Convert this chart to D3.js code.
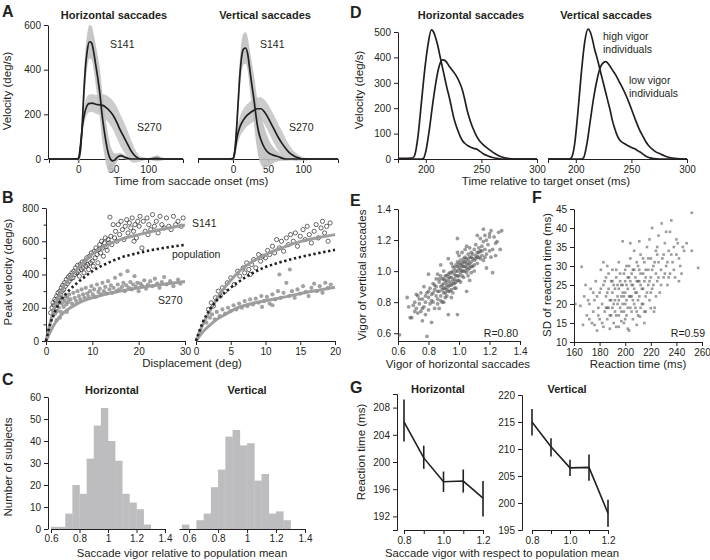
<!DOCTYPE html>
<html><head><meta charset="utf-8">
<script src="https://cdn.jsdelivr.net/npm/d3@7"></script>
<style>body{margin:0;background:#fff}svg{display:block;font-family:"Liberation Sans",Arial,Helvetica,sans-serif}</style>
</head><body><script>
// ---------------- DATA ----------------
// Panel A: velocity profiles [time ms, mean deg/s, sd]
const aHorizS141 = [[-42,0,2],[-5,0,3],[0,2,10],[3,40,40],[5,120,60],[8,300,80],[10,400,80],[13,490,75],[16,525,75],[19,520,75],[22,480,80],[25,420,90],[28,360,100],[31,290,110],[34,200,110],[37,130,105],[40,70,95],[43,25,80],[46,0,60],[49,-8,45],[52,-5,30],[55,5,20],[58,12,15],[61,15,12],[64,12,10],[68,6,8],[72,2,6],[76,0,5],[100,0,4],[108,2,10],[113,3,14],[118,1,9],[126,0,3],[150,0,2]];
const aHorizS270 = [[-42,0,2],[0,0,5],[3,60,30],[6,150,40],[9,205,40],[12,235,40],[15,248,40],[20,250,40],[25,245,42],[30,243,45],[35,240,50],[40,230,55],[45,215,60],[50,195,65],[55,165,70],[60,130,70],[65,100,68],[70,70,62],[75,40,50],[80,18,35],[85,5,20],[90,0,10],[100,0,5],[150,0,2]];
const aVertS141 = [[-50,0,2],[-5,0,3],[0,2,10],[3,50,40],[6,180,60],[9,340,70],[12,450,70],[15,492,70],[18,497,70],[21,470,75],[24,400,85],[27,330,100],[30,265,110],[33,190,115],[36,130,115],[40,85,110],[45,50,90],[50,30,65],[55,20,45],[60,15,30],[65,10,20],[70,4,12],[75,0,8],[85,0,4],[150,0,2]];
const aVertS270 = [[-50,0,2],[0,0,5],[3,40,25],[6,100,40],[10,145,45],[15,175,50],[20,195,50],[25,208,50],[30,218,50],[35,225,50],[40,225,52],[45,210,55],[50,185,60],[55,155,62],[60,125,62],[65,95,60],[70,70,55],[75,48,45],[80,30,35],[85,18,25],[90,9,18],[95,4,12],[100,0,8],[110,0,4],[150,0,2]];

// Panel B: peak velocity vs displacement [deg, deg/s]
const bHorizS141 = [[1.0,170],[1.3,200],[1.5,230],[1.7,215],[1.9,250],[2.1,240],[2.3,270],[2.4,225],[2.6,290],[2.8,265],[3.0,300],[3.1,280],[3.3,320],[3.5,300],[3.6,335],[3.8,310],[4.0,350],[4.2,330],[4.4,370],[4.6,345],[4.8,385],[5.0,360],[5.2,395],[5.4,375],[5.6,410],[5.8,380],[6.0,420],[6.2,400],[6.4,440],[6.6,410],[6.8,455],[7.0,420],[7.2,390],[7.4,460],[7.6,430],[7.8,475],[8.0,440],[8.2,410],[8.4,480],[8.6,450],[8.8,500],[9.0,460],[9.2,430],[9.4,510],[9.6,470],[9.8,530],[10.0,480],[10.2,450],[10.4,540],[10.6,500],[10.8,560],[11.0,520],[11.2,470],[11.4,550],[11.6,580],[11.8,530],[12.0,600],[12.2,560],[12.4,510],[12.6,590],[12.8,620],[13.0,570],[13.2,545],[13.4,610],[13.6,590],[13.8,745],[14.0,630],[14.2,580],[14.5,700],[14.8,620],[15.0,660],[15.3,600],[15.6,700],[15.9,640],[16.2,720],[16.5,670],[16.8,610],[17.1,690],[17.4,730],[17.7,650],[18.0,710],[18.3,680],[18.6,740],[18.9,660],[19.0,600],[19.2,700],[19.5,620],[19.8,720],[20.1,690],[20.3,750],[20.7,560],[21.0,720],[21.4,660],[21.8,740],[22.0,640],[22.2,700],[22.6,670],[23.0,760],[23.4,690],[23.8,720],[24.2,650],[24.6,750],[25.0,700],[25.5,680],[26.0,740],[26.5,690],[27.0,670],[27.5,750],[28.0,700],[28.5,720],[29.2,690],[29.6,740]];
const bHorizS270 = [[1.5,150],[1.8,190],[2.0,165],[2.2,210],[2.3,125],[2.4,180],[2.6,230],[2.8,200],[3.0,245],[3.0,140],[3.2,175],[3.4,225],[3.6,255],[3.8,205],[4.0,240],[4.2,270],[4.4,220],[4.5,175],[4.6,260],[4.8,235],[5.0,280],[5.3,250],[5.6,225],[5.9,290],[6.2,260],[6.5,240],[6.8,300],[7.1,270],[7.4,250],[7.7,310],[8.0,280],[8.3,260],[8.6,320],[8.9,285],[9.2,265],[9.5,300],[9.8,330],[10.1,280],[10.4,310],[10.7,265],[11.0,340],[11.3,295],[11.6,315],[11.9,280],[12.2,350],[12.5,300],[12.8,325],[13.1,285],[13.4,360],[13.7,310],[14.0,335],[14.3,290],[14.6,320],[14.9,380],[15.2,300],[15.5,340],[15.8,310],[16.1,400],[16.4,325],[16.7,350],[17.0,300],[17.3,335],[17.6,420],[17.9,320],[18.2,355],[18.5,310],[18.8,340],[19.1,390],[19.4,325],[19.7,350],[20.0,300],[20.4,345],[20.8,330],[21.2,365],[21.6,315],[22.0,340],[22.5,360],[23.0,330],[23.5,375],[24.0,345],[24.5,320],[25.0,355],[25.5,385],[26.0,340],[26.8,360],[27.5,330],[28.5,370],[29.0,345]];
const bVertS141 = [[1.8,190],[2.2,230],[2.5,210],[2.8,260],[3.2,300],[3.5,270],[3.8,320],[4.2,300],[4.5,350],[5.0,380],[5.5,340],[6.0,420],[6.3,390],[6.8,440],[7.0,410],[7.3,470],[7.6,430],[7.8,400],[8.0,460],[8.3,490],[8.6,440],[9.0,520],[9.3,480],[9.6,510],[10.0,500],[10.3,545],[10.6,520],[11.0,570],[11.3,530],[11.6,610],[12.0,560],[12.3,600],[12.6,540],[13.0,620],[13.3,580],[13.6,640],[14.0,600],[14.3,650],[14.6,570],[15.0,630],[15.4,670],[15.7,610],[16.0,690],[16.3,640],[16.6,590],[17.0,660],[17.3,700],[17.6,620],[18.0,680],[18.2,720],[18.5,650],[18.8,690],[19.0,600],[19.3,710]];
const bVertS270 = [[1.5,110],[2.0,140],[2.3,160],[2.7,130],[3.0,175],[3.4,150],[3.8,190],[4.2,165],[4.6,200],[5.0,180],[5.4,215],[5.8,190],[6.2,225],[6.6,200],[7.0,240],[7.4,210],[7.8,250],[8.2,220],[8.6,255],[9.0,230],[9.4,270],[9.5,205],[9.8,240],[10.2,265],[10.6,225],[11.0,280],[11.0,215],[11.4,250],[11.8,300],[12.0,400],[12.2,260],[12.6,290],[13.0,350],[13.4,270],[13.5,430],[13.8,300],[14.2,260],[14.6,310],[15.0,285],[15.4,330],[15.8,295],[16.2,270],[16.6,320],[17.0,345],[17.4,300],[17.8,330],[18.2,290],[18.6,350],[19.0,320],[19.4,340]];
// fitted main-sequence curves [deg, deg/s]
const bHorizFitS141 = [[0,0],[1,120],[2,215],[3,285],[4,335],[5,375],[7,440],[10,525],[13,575],[16,610],[20,640],[25,672],[30,698]];
const bHorizFitPop  = [[0,0],[1,110],[2,180],[3,235],[5,305],[7,355],[10,420],[13,465],[16,500],[20,530],[25,558],[30,578]];
const bHorizFitS270 = [[0,0],[1,60],[2,110],[3,148],[5,195],[7,228],[10,260],[13,283],[16,300],[20,320],[25,340],[30,358]];
const bVertFitS141 = [[0,0],[1,100],[2,180],[3,255],[4,315],[5,365],[6,410],[8,475],[10,520],[12,555],[15,598],[18,625],[20,640]];
const bVertFitPop  = [[0,0],[1,115],[2,190],[3,245],[4,285],[6,352],[8,405],[10,445],[12,472],[15,505],[18,532],[20,548]];
const bVertFitS270 = [[0,0],[1,55],[2,95],[3,130],[4,155],[6,200],[8,225],[10,242],[12,258],[15,285],[18,308],[20,323]];

// Panel C: histograms (bin start, width 0.05)
const cHorizBins   = [0.60,0.65,0.70,0.75,0.80,0.85,0.90,0.95,1.00,1.05,1.10,1.15,1.20,1.25];
const cHorizCounts = [1,1,7,20,16,32,47,55,40,31,16,12,9,2];
const cVertBins    = [0.55,0.60,0.65,0.70,0.75,0.80,0.85,0.90,0.95,1.00,1.05,1.10,1.15,1.20,1.25];
const cVertCounts  = [2,0,4,7,19,27,42,45,38,39,22,25,7,8,4];

// Panel D: mean velocity of high / low vigor groups [time ms, deg/s]
const dHorizHigh = [[175,3],[188,4],[190,15],[193,90],[196,220],[199,350],[202,450],[205,508],[207,500],[209,475],[211,442],[213,400],[215,360],[217,320],[219,280],[221,245],[223,205],[225,165],[227,135],[229,110],[231,88],[233,72],[235,62],[238,52],[241,45],[243,42],[246,38],[249,29],[252,20],[256,12],[260,6],[265,2],[270,0],[300,0]];
const dHorizLow  = [[175,0],[196,0],[198,3],[200,30],[203,110],[206,210],[209,300],[212,365],[215,390],[218,385],[221,365],[224,348],[227,330],[230,305],[233,270],[235,235],[237,195],[240,150],[243,115],[246,87],[249,68],[252,55],[255,44],[258,34],[262,22],[266,12],[270,6],[275,2],[280,0],[300,0]];
const dVertHigh  = [[175,0],[194,0],[196,5],[199,60],[202,190],[205,340],[208,460],[211,511],[213,500],[215,470],[217,430],[219,400],[221,365],[223,330],[225,295],[227,260],[229,225],[231,190],[233,150],[235,120],[237,95],[239,78],[241,68],[244,60],[247,52],[250,45],[253,40],[256,32],[259,24],[262,14],[265,7],[270,2],[275,0],[300,0]];
const dVertLow   = [[175,0],[205,0],[207,5],[210,60],[213,150],[216,240],[219,310],[222,360],[225,380],[227,383],[230,370],[233,350],[236,330],[239,305],[242,280],[245,252],[248,220],[251,185],[254,150],[257,118],[260,92],[263,68],[266,50],[269,38],[272,28],[276,20],[280,12],[285,5],[290,2],[295,0],[300,0]];

// Panel E: vigor horizontal vs vertical
const eVigor = [[0.61,0.59],[0.66,0.83],[0.67,0.77],[0.68,0.70],[0.69,0.70],[0.70,0.78],[0.71,0.80],[0.71,0.74],[0.72,0.76],[0.72,0.85],[0.73,0.84],[0.73,0.73],[0.74,0.79],[0.74,0.82],[0.75,0.86],[0.75,0.74],[0.76,0.68],[0.76,0.82],[0.76,0.76],[0.77,0.77],[0.77,0.90],[0.78,0.80],[0.78,0.72],[0.78,0.84],[0.79,0.58],[0.79,0.86],[0.80,0.83],[0.80,0.75],[0.80,0.98],[0.80,0.87],[0.81,0.89],[0.81,0.79],[0.82,0.67],[0.82,0.85],[0.82,0.81],[0.83,0.92],[0.83,0.80],[0.83,0.86],[0.84,0.88],[0.84,0.76],[0.84,0.91],[0.85,0.95],[0.85,0.84],[0.85,0.90],[0.86,0.82],[0.86,0.98],[0.86,0.87],[0.86,0.79],[0.87,0.87],[0.87,0.93],[0.87,0.76],[0.87,0.95],[0.88,0.90],[0.88,0.84],[0.88,1.04],[0.88,0.97],[0.88,0.81],[0.89,0.95],[0.89,0.88],[0.89,0.80],[0.89,0.91],[0.90,0.92],[0.90,0.86],[0.90,1.00],[0.90,0.95],[0.90,0.89],[0.90,0.80],[0.91,0.94],[0.91,0.89],[0.91,0.83],[0.91,0.97],[0.91,0.86],[0.92,0.97],[0.92,0.91],[0.92,0.88],[0.92,0.93],[0.92,0.84],[0.93,0.95],[0.93,0.90],[0.93,1.08],[0.93,0.72],[0.93,0.98],[0.93,0.87],[0.94,0.93],[0.94,0.87],[0.94,0.99],[0.94,0.91],[0.94,0.96],[0.95,0.96],[0.95,0.91],[0.95,1.05],[0.95,0.88],[0.95,0.99],[0.95,0.83],[0.96,0.94],[0.96,1.00],[0.96,0.86],[0.96,0.92],[0.96,1.03],[0.97,0.98],[0.97,1.02],[0.97,0.92],[0.97,0.95],[0.97,0.89],[0.98,1.04],[0.98,0.97],[0.98,0.89],[0.98,1.00],[0.98,0.93],[0.99,1.00],[0.99,1.06],[0.99,0.94],[0.99,1.21],[0.99,1.12],[0.99,0.72],[0.99,0.97],[0.99,1.03],[1.00,1.02],[1.00,0.97],[1.00,1.10],[1.00,0.94],[1.00,1.05],[1.01,1.04],[1.01,0.99],[1.01,0.93],[1.01,1.01],[1.01,1.07],[1.02,1.05],[1.02,1.00],[1.02,1.12],[1.02,0.97],[1.02,1.03],[1.03,1.03],[1.03,1.08],[1.03,0.96],[1.03,1.00],[1.03,1.06],[1.04,1.06],[1.04,1.00],[1.04,1.14],[1.04,1.03],[1.04,1.09],[1.05,1.02],[1.05,1.08],[1.05,0.87],[1.05,1.16],[1.05,1.05],[1.05,0.99],[1.06,1.04],[1.06,1.11],[1.06,0.97],[1.06,1.07],[1.06,1.01],[1.07,1.09],[1.07,1.02],[1.07,1.15],[1.07,0.94],[1.07,1.05],[1.08,1.06],[1.08,1.12],[1.08,0.99],[1.08,1.09],[1.08,1.03],[1.09,1.08],[1.09,1.03],[1.09,1.11],[1.10,1.14],[1.10,1.07],[1.10,1.00],[1.10,1.04],[1.11,1.10],[1.11,1.17],[1.11,1.08],[1.12,1.12],[1.12,1.05],[1.12,1.23],[1.12,1.09],[1.13,1.15],[1.13,1.09],[1.13,1.12],[1.14,1.21],[1.14,1.13],[1.14,1.08],[1.15,1.10],[1.15,1.16],[1.15,1.13],[1.16,1.07],[1.16,1.19],[1.16,1.27],[1.17,1.14],[1.17,1.23],[1.17,1.09],[1.18,1.20],[1.18,1.11],[1.18,1.02],[1.19,1.17],[1.20,1.24],[1.20,1.13],[1.20,1.22],[1.21,1.26],[1.21,1.09],[1.22,0.99],[1.22,1.14],[1.23,1.22],[1.24,1.18],[1.24,1.10],[1.25,1.19],[1.26,1.25],[1.27,1.14],[1.28,1.26]];

// Panel F: reaction time vs SD of reaction time [ms, ms]
const fRT = [[161,20],[165,19.5],[166,29.8],[167,14.5],[168,22],[169,25],[170,17],[171,21],[172,20],[172,16],[173,24],[174,15],[175,18],[175,23],[176,21],[176,14.5],[177,26],[178,13],[178,22],[179,19],[179,17],[180,23],[180,16],[181,29],[181,24],[182,20],[182,15],[183,25],[183,14],[183,31],[184,18],[184,26],[185,22],[185,27],[185,19],[186,16],[186,30],[186,23],[186,19],[187,19],[187,24],[187,28],[188,21],[188,13.5],[188,17],[189,26],[189,17],[189,21],[190,23],[190,19],[190,29],[190,26],[191,15],[191,25],[191,20],[192,21],[192,18],[192,24],[193,27],[193,14],[193,17],[193,29],[194,22],[194,20],[194,25],[195,24],[195,17],[195,31],[195,21],[195,14],[196,26],[196,19],[196,28],[197,22],[197,15.5],[197,18],[197,25],[198,36.5],[198,25],[198,20],[198,23],[199,28],[199,18],[199,15],[199,22],[200,23],[200,26],[200,16],[200,29],[200,20],[201,21],[201,30],[201,25],[201,17],[202,24],[202,19],[202,27],[202,13.5],[203,27],[203,13],[203,22],[203,30],[204,22],[204,32],[204,19],[204,26],[204,36],[205,25],[205,18],[205,22],[205,28],[206,29],[206,21],[206,16],[206,25],[207,24],[207,34],[207,20],[207,29],[208,19],[208,27],[208,23],[209,23],[209,31],[209,26],[209,18],[209,14.5],[210,26],[210,17],[210,21],[210,30],[211,29],[211,22],[211,26],[211,36.5],[211.5,16.7],[212,25],[212,33],[212,19],[212,28],[213,20],[213,24],[214,28],[214,24],[214,32],[214,20],[215,31],[215,18],[215,26],[215,15],[216,27],[216,22],[216,29],[216,18],[217,35],[217,23],[218,25],[218,29],[218,32],[219,21],[219,26],[219,37],[220,32],[220,27],[220,18.9],[220,23],[221,24],[221,29],[221,40],[222,30],[222,25],[222.5,18],[223,19],[223,31],[224,34],[224,28],[224,22],[225,26],[225,33],[225,35],[226,31],[226,38],[226,27],[227,23],[228,29],[228,25],[228.5,41.2],[229,32],[230,33],[230,27],[231,36],[231,28],[232,30],[232,39],[233,25],[233,31],[234,34],[234,27],[235,39],[235,28],[236,42],[236,33],[237,31],[238,35],[238,29],[239,27],[240,33],[240,37],[241,36],[242,26],[242,32],[243,30],[244,28],[245,35],[246,34],[248,36],[252,44],[252,34],[257,29.5]];

// Panel G: reaction time vs vigor group
const gVigor     = [0.8,0.9,1.0,1.1,1.2];
const gHorizMean = [205.9,200.6,197.1,197.2,194.7];
const gHorizLo   = [203.0,199.0,195.6,195.5,192.0];
const gHorizHi   = [209.2,202.4,198.6,198.9,197.2];
const gVertMean  = [215.0,210.4,206.5,206.6,198.1];
const gVertLo    = [212.5,208.6,205.0,204.1,195.6];
const gVertHi    = [217.4,212.0,208.0,209.0,200.6];

// ---------------- DRAWING ----------------
const ink = "#231f20";
const FF = '"Liberation Sans", Arial, Helvetica, sans-serif';
const FT = 10, FL = 11.5;
const svg = d3.select("body").append("svg").attr("width",710).attr("height",560);

function txt(x,y,s,o={}){
  const t = svg.append("text").attr("x",x).attr("y",y).text(s)
    .attr("font-size",o.size||FL).attr("fill",ink).attr("font-family",FF);
  if(o.anchor) t.attr("text-anchor",o.anchor);
  if(o.bold) t.attr("font-weight","bold");
  if(o.rot) t.attr("transform",`rotate(-90,${x},${y})`).attr("text-anchor","middle");
  return t;
}
function style(g){
  g.attr("font-family",FF).attr("font-size",FT);
  g.selectAll("path,line").attr("stroke",ink).attr("stroke-width",1);
  g.selectAll("text").attr("fill",ink);
  return g;
}
function xAxis(sc,y,vals,fmt,outer=0,size=4,pad=3){
  return style(svg.append("g").attr("transform",`translate(0,${y})`)
    .call(d3.axisBottom(sc).tickValues(vals).tickFormat(fmt||(d=>d)).tickSize(size).tickSizeOuter(outer).tickPadding(pad)));
}
function yAxis(sc,x,vals,fmt,outer=0,size=4){
  return style(svg.append("g").attr("transform",`translate(${x},0)`)
    .call(d3.axisLeft(sc).tickValues(vals).tickFormat(fmt||(d=>d)).tickSize(size).tickSizeOuter(outer).tickPadding(3)));
}
function minorY(sc,x,vals){
  const g = style(svg.append("g").attr("transform",`translate(${x},0)`)
    .call(d3.axisLeft(sc).tickValues(vals).tickFormat("").tickSize(2.5)));
  g.select(".domain").remove();
}
const f1 = d=>d.toFixed(1);

// ===== Panel A =====
const xA1 = d3.scaleLinear([-42,150],[49,183]);
const xA2 = d3.scaleLinear([-50,150],[198,338]);
const yA  = d3.scaleLinear([0,600],[159,25]);
yAxis(yA,48,[0,200,400,600]);
xAxis(xA1,159,[0,50,100],null,4);
xAxis(xA2,159,[0,50,100],null,4);
function bandA(data,x,fill){
  svg.append("path").datum(data).attr("fill",fill).attr("opacity",0.9)
    .attr("d",d3.area().x(d=>x(d[0])).y0(d=>yA(d[1]-d[2])).y1(d=>yA(d[1]+d[2])).curve(d3.curveMonotoneX));
}
function lineA(data,x){
  svg.append("path").datum(data).attr("fill","none").attr("stroke",ink).attr("stroke-width",1.7)
    .attr("d",d3.line().x(d=>x(d[0])).y(d=>yA(d[1])).curve(d3.curveMonotoneX));
}
bandA(aHorizS270,xA1,"#c6c6c6"); bandA(aHorizS141,xA1,"#c0c0c0");
bandA(aVertS270,xA2,"#c6c6c6");  bandA(aVertS141,xA2,"#c0c0c0");
lineA(aHorizS270,xA1); lineA(aHorizS141,xA1);
lineA(aVertS270,xA2);  lineA(aVertS141,xA2);
txt(2,17,"A",{size:16,bold:true});
txt(114,19,"Horizontal saccades",{size:11,bold:true,anchor:"middle"});
txt(265,19,"Vertical saccades",{size:11,bold:true,anchor:"middle"});
txt(110,48,"S141",{size:10.5}); txt(137,131,"S270",{size:10.5});
txt(260,48,"S141",{size:10.5}); txt(289,131,"S270",{size:10.5});
txt(10.5,91,"Velocity (deg/s)",{rot:true});
txt(191,185,"Time from saccade onset (ms)",{anchor:"middle"});

// ===== Panel B =====
const xB1 = d3.scaleLinear([0,30],[46,185]);
const xB2 = d3.scaleLinear([0,20],[196,335]);
const yB  = d3.scaleLinear([0,800],[341,208]);
yAxis(yB,46,[0,200,400,600,800]);
minorY(yB,46,[100,300,500,700]);
xAxis(xB1,341,[0,10,20,30]);
xAxis(xB2,341,[0,5,10,15,20]);
function ptsB(data,x,open){
  const s = svg.append("g").selectAll("circle").data(data).join("circle")
    .attr("cx",d=>x(d[0])).attr("cy",d=>yB(d[1])).attr("r",2.1);
  if(open) s.attr("fill","none").attr("stroke",ink).attr("stroke-width",0.8).attr("stroke-opacity",0.85);
  else s.attr("fill","#7a7a7a").attr("fill-opacity",0.7);
}
function fitB(data,x,dotted){
  const p = svg.append("path").datum(data).attr("fill","none")
    .attr("d",d3.line().x(d=>x(d[0])).y(d=>yB(d[1])).curve(d3.curveMonotoneX));
  if(dotted) p.attr("stroke",ink).attr("stroke-width",2.6).attr("stroke-dasharray","2.4,2.6");
  else p.attr("stroke","#9a9a9a").attr("stroke-width",3).attr("stroke-opacity",0.95);
}
ptsB(bHorizS270,xB1,false); ptsB(bHorizS141,xB1,true);
ptsB(bVertS270,xB2,false);  ptsB(bVertS141,xB2,true);
fitB(bHorizFitS141,xB1); fitB(bHorizFitS270,xB1); fitB(bHorizFitPop,xB1,true);
fitB(bVertFitS141,xB2);  fitB(bVertFitS270,xB2);  fitB(bVertFitPop,xB2,true);
txt(2,203,"B",{size:16,bold:true});
txt(192,227,"S141",{size:10.5});
txt(172,258,"population",{size:10.5});
txt(158,304,"S270",{size:10.5});
txt(11.5,272,"Peak velocity (deg/s)",{rot:true});
txt(192,367,"Displacement (deg)",{anchor:"middle"});

// ===== Panel C =====
const xC1 = d3.scaleLinear([0.6,1.4],[51,165]);
const xC2 = d3.scaleLinear([0.53,1.4],[179,305]);
const yC  = d3.scaleLinear([0,60],[529,397]);
function histC(bins,counts,x){
  svg.append("g").selectAll("rect").data(bins).join("rect")
    .attr("x",d=>x(d)).attr("width",d=>x(d+0.05)-x(d)+0.3)
    .attr("y",(d,i)=>yC(counts[i])).attr("height",(d,i)=>yC(0)-yC(counts[i]))
    .attr("fill","#bdbdbf");
}
histC(cHorizBins,cHorizCounts,xC1);
histC(cVertBins,cVertCounts,xC2);
yAxis(yC,48,[0,10,20,30,40,50,60]);
const fC = d=> d===1 ? "1" : d.toFixed(1);
xAxis(xC1,529,[0.6,0.8,1.0,1.2,1.4],fC,0,4,2);
xAxis(xC2,529,[0.6,0.8,1.0,1.2,1.4],fC,0,4,2);
txt(2,385,"C",{size:16,bold:true});
txt(112,394,"Horizontal",{size:11,bold:true,anchor:"middle"});
txt(247,394,"Vertical",{size:11,bold:true,anchor:"middle"});
txt(11.5,467,"Number of subjects",{rot:true});
txt(182,556.5,"Saccade vigor relative to population mean",{anchor:"middle",size:11.3});

// ===== Panel D =====
const xD1 = d3.scaleLinear([175,300],[398,537]);
const xD2 = d3.scaleLinear([175,300],[548,687]);
const yD  = d3.scaleLinear([0,500],[159,32]);
yAxis(yD,398,[0,100,200,300,400,500]);
xAxis(xD1,159,[200,250,300],null,4);
xAxis(xD2,159,[200,250,300],null,4);
function lineD(data,x){
  svg.append("path").datum(data).attr("fill","none").attr("stroke",ink).attr("stroke-width",1.7)
    .attr("d",d3.line().x(d=>x(d[0])).y(d=>yD(d[1])).curve(d3.curveMonotoneX));
}
lineD(dHorizHigh,xD1); lineD(dHorizLow,xD1);
lineD(dVertHigh,xD2);  lineD(dVertLow,xD2);
txt(350,18,"D",{size:16,bold:true});
txt(471,19,"Horizontal saccades",{size:11,bold:true,anchor:"middle"});
txt(606,19,"Vertical saccades",{size:11,bold:true,anchor:"middle"});
txt(603,40,"high vigor",{size:10.5}); txt(603,53,"individuals",{size:10.5});
txt(629,84,"low vigor",{size:10.5});  txt(629,97,"individuals",{size:10.5});
txt(363,90,"Velocity (deg/s)",{rot:true});
txt(546,185,"Time relative to target onset (ms)",{anchor:"middle"});

// ===== Panel E =====
const xE = d3.scaleLinear([0.6,1.4],[398,520]);
const yE = d3.scaleLinear([0.55,1.4],[341,209]);
yAxis(yE,398,[0.6,0.8,1.0,1.2,1.4],f1);
xAxis(xE,341,[0.6,0.8,1.0,1.2,1.4],f1);
svg.append("g").selectAll("circle").data(eVigor).join("circle")
  .attr("cx",d=>xE(d[0])).attr("cy",d=>yE(d[1])).attr("r",1.9)
  .attr("fill","#4a4a4a").attr("fill-opacity",0.55);
txt(350,206,"E",{size:16,bold:true});
txt(518,337,"R=0.80",{size:10.5,anchor:"end"});
txt(366,275,"Vigor of vertical saccades",{rot:true});
txt(458,368,"Vigor of horizontal saccades",{anchor:"middle"});

// ===== Panel F =====
const xF = d3.scaleLinear([160,260],[574,702]);
const yF = d3.scaleLinear([10,45],[342,209]);
yAxis(yF,574,[10,15,20,25,30,35,40,45]);
xAxis(xF,342,[160,180,200,220,240,260]);
svg.append("g").selectAll("rect").data(fRT).join("rect")
  .attr("x",d=>xF(d[0])-1.3).attr("y",d=>yF(d[1])-1.3).attr("width",2.6).attr("height",2.6)
  .attr("fill","#4a4a4a").attr("fill-opacity",0.55);
txt(532,203,"F",{size:16,bold:true});
txt(705,337,"R=0.59",{size:10.5,anchor:"end"});
txt(551,275,"SD of reaction time (ms)",{rot:true});
txt(638,368,"Reaction time (ms)",{anchor:"middle"});

// ===== Panel G =====
const xG1 = d3.scaleLinear([0.8,1.2],[404,483]);
const yG1 = d3.scaleLinear([190,210],[530,394]);
const xG2 = d3.scaleLinear([0.8,1.2],[532,608]);
const yG2 = d3.scaleLinear([195,220],[530,395]);
const fG = d=> (Math.abs(d-0.9)<1e-6||Math.abs(d-1.1)<1e-6) ? "" : d.toFixed(1);
yAxis(yG1,397,[192,196,200,204,208],null,4);
xAxis(xG1,530,gVigor,fG,0,4,2.5);
yAxis(yG2,522,[195,200,205,210,215,220],null,4);
xAxis(xG2,530,gVigor,fG,0,4,2.5);
function plotG(mean,lo,hi,x,y){
  svg.append("path").datum(gVigor).attr("fill","none").attr("stroke",ink).attr("stroke-width",1.6)
    .attr("d",d3.line().x(d=>x(d)).y((d,i)=>y(mean[i])));
  svg.append("g").selectAll("line").data(gVigor).join("line")
    .attr("x1",d=>x(d)).attr("x2",d=>x(d)).attr("y1",(d,i)=>y(lo[i])).attr("y2",(d,i)=>y(hi[i]))
    .attr("stroke",ink).attr("stroke-width",1.6);
}
plotG(gHorizMean,gHorizLo,gHorizHi,xG1,yG1);
plotG(gVertMean,gVertLo,gVertHi,xG2,yG2);
txt(350,393,"G",{size:16,bold:true});
txt(438,393,"Horizontal",{size:11,bold:true,anchor:"middle"});
txt(567,393,"Vertical",{size:11,bold:true,anchor:"middle"});
txt(365,452,"Reaction time (ms)",{rot:true});
txt(502,557,"Saccade vigor with respect to population mean",{anchor:"middle",size:11.3});
</script></body></html>
